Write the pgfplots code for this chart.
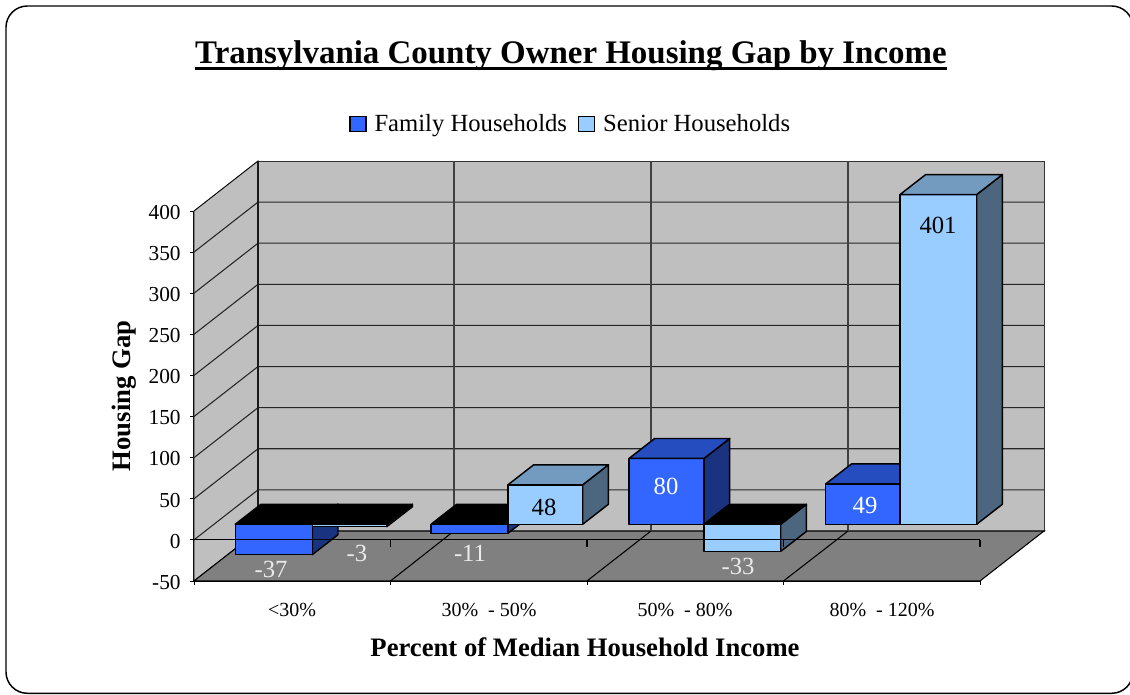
\documentclass[border=0pt]{standalone}
\usepackage{fontspec}
\setmainfont{Liberation Serif}
\usepackage{pgfplots}
\pgfplotsset{compat=1.18}
\definecolor{famF}{HTML}{3366FF}
\definecolor{famT}{HTML}{264DBF}
\definecolor{famS}{HTML}{1A3380}
\definecolor{senF}{HTML}{99CCFF}
\definecolor{senT}{HTML}{739ABF}
\definecolor{senS}{HTML}{4D6680}
\newcommand\ulbar[1]{\setbox0=\hbox{#1}\rlap{\rule[-4.8pt]{\wd0}{2.2pt}}\box0}
% x0, x1 in picture units, v = value, colours front/top/side
\newcommand\threebar[6]{%
  \pgfmathsetmacro\ya{19}%
  \pgfmathsetmacro\yv{#3+19}%
  \pgfmathsetmacro\yt{max(#3,0)+19}%
  \pgfmathsetmacro\xb{#2+25.7}%
  \pgfmathsetmacro\xc{#1+25.7}%
  \pgfmathsetmacro\ytb{\yt+24.3}%
  \pgfmathsetmacro\yab{\ya+24.3}%
  \pgfmathsetmacro\yvb{\yv+24.3}%
  \addplot[forget plot,fill=#6,draw=black,line width=1.1pt,line join=round] coordinates {(#2,\ya) (#2,\yv) (\xb,\yvb) (\xb,\yab)} -- cycle;
  \addplot[forget plot,fill=#4,draw=black,line width=1.1pt,line join=round] coordinates {(#1,\ya) (#2,\ya) (#2,\yv) (#1,\yv)} -- cycle;
  \addplot[forget plot,fill=#5,draw=black,line width=1.1pt,line join=round] coordinates {(#1,\yt) (#2,\yt) (\xb,\ytb) (\xc,\ytb)} -- cycle;
}
\begin{document}
\begin{tikzpicture}
\begin{axis}[
  scale only axis,
  width=589.5pt, height=277.5pt,
  xmin=194, xmax=980, ymin=-50, ymax=400,
  clip=false,
  axis x line=bottom, axis y line=left,
  axis line style={-, line width=0.8pt},
  ytick={-50,0,50,100,150,200,250,300,350,400},
  xtick={292,489,685,882},
  xticklabels={{<30\%},{30\%\ \ - 50\%},{50\%\ \ - 80\%},{80\%\ \ - 120\%}},
  xtick style={draw=none},
  extra x ticks={194,390.5,587,783.5,980},
  extra x tick labels={},
  extra x tick style={xtick style={draw=black,line width=0.7pt}, major tick length=5.5pt},
  ytick style={draw=black,line width=0.7pt},
  major tick length=6pt,
  /pgf/number format/assume math mode=true,
  y tick label style={font=\fontsize{16}{18}\selectfont, xshift=-3.5pt, yshift=-1pt},
  x tick label style={font=\fontsize{15}{18}\selectfont, yshift=-10.5pt},
  title={\ulbar{Transylvania County Owner Housing Gap by Income}},
  title style={font=\fontsize{24.7}{28}\bfseries\selectfont, at={(rel axis cs:0.4796,1.397)}, anchor=center},
  xlabel={Percent of Median Household Income},
  xlabel style={font=\fontsize{20}{22}\bfseries\selectfont, at={(rel axis cs:0.4975,-0.18)}, anchor=center},
  ylabel={Housing Gap},
  ylabel style={font=\fontsize{20}{22}\bfseries\selectfont, at={(rel axis cs:-0.0885,0.5)}, anchor=center, rotate=0},
  legend style={draw=none, fill=none, at={(rel axis cs:0.4796,1.235)}, anchor=center,
    font=\fontsize{18.5}{22}\selectfont, legend columns=2,
    /tikz/every even column/.append style={column sep=6pt}},
]
\addlegendimage{legend image code/.code={\draw[fill=famF,draw=black,line width=1.1pt] (0cm,-5.5pt) rectangle (12pt,5.5pt); \path[draw=none,fill=none] (0,0) -- (16.5pt,0);}}
\addlegendentry{Family Households}
\addlegendimage{legend image code/.code={\draw[fill=senF,draw=black,line width=1.1pt] (0cm,-5.5pt) rectangle (12pt,5.5pt); \path[draw=none,fill=none] (0,0) -- (16.5pt,0);}}
\addlegendentry{Senior Households}
% page frame
\path (axis cs:0,-188.5) rectangle (axis cs:1130,656.6);
\draw[overlay,line width=1.1pt,rounded corners=16pt] (axis cs:6,-186.6) rectangle (axis cs:1133,649.3);
% walls and floor
\addplot[forget plot,fill=black!25,draw=black!80,line width=0.7pt] coordinates {(258,10.8) (1044,10.8) (1044,460.8) (258,460.8)} -- cycle;
\addplot[forget plot,fill=black!25,draw=black,line width=0.7pt] coordinates {(194,-50) (258,10.8) (258,460.8) (194,400)} -- cycle;
\addplot[forget plot,fill=black!50,draw=black,line width=0.8pt] coordinates {(194,-50) (258,10.8) (1044,10.8) (980,-50)} -- cycle;
% gridlines
\pgfplotsinvokeforeach{0,50,100,150,200,250,300,350}{
  \pgfmathsetmacro\yb{#1+60.8}
  \addplot[forget plot,black!85,line width=0.8pt] coordinates {(194,#1) (258,\yb) (1044,\yb)};
}
\addplot[forget plot,black!75,line width=0.8pt] coordinates {(454,10.8) (454,460.8)};
\addplot[forget plot,black!75,line width=0.8pt] coordinates {(651,10.8) (651,460.8)};
\addplot[forget plot,black!75,line width=0.8pt] coordinates {(848,10.8) (848,460.8)};
\addplot[forget plot,black!90,line width=1.1pt] coordinates {(258,10.8) (258,460.8)};
\addplot[forget plot,black,line width=0.8pt] coordinates {(390.5,-50) (454,10.8)};
\addplot[forget plot,black,line width=0.8pt] coordinates {(587,-50) (651,10.8)};
\addplot[forget plot,black,line width=0.8pt] coordinates {(783.5,-50) (848,10.8)};
% bars
\threebar{235.3}{312.3}{-37}{famF}{black}{famS}
\threebar{312.3}{386.7}{-3}{senF}{black}{senS}
\threebar{431}{508}{-11}{famF}{black}{famS}
\threebar{508}{582.7}{48}{senF}{senT}{senS}
\threebar{629}{704}{80}{famF}{famT}{famS}
\threebar{704}{780.7}{-33}{senF}{black}{senS}
\threebar{825.7}{900}{49}{famF}{famT}{famS}
\threebar{900}{976.7}{401}{senF}{senT}{senS}
% zero axis line
\addplot[forget plot,black,line width=0.8pt] coordinates {(194,0) (980,0)};
\addplot[forget plot,black,line width=0.8pt] coordinates {(390.5,0) (390.5,-9)};
\addplot[forget plot,black,line width=0.8pt] coordinates {(587,0) (587,-9)};
\addplot[forget plot,black,line width=0.8pt] coordinates {(783.5,0) (783.5,-9)};
\addplot[forget plot,black,line width=0.8pt] coordinates {(980,0) (980,-9)};
% value labels
\begin{scope}[every node/.style={font=\fontsize{18.5}{22}\selectfont}]
\node[white!92!black] at (axis cs:271,-35.5) {-37};
\node[white!92!black] at (axis cs:357,-17) {-3};
\node[white!92!black] at (axis cs:470,-17) {-11};
\node[black] at (axis cs:544,40) {48};
\node[white] at (axis cs:666,65.6) {80};
\node[white!92!black] at (axis cs:738,-32) {-33};
\node[white] at (axis cs:865,42.4) {49};
\node[black] at (axis cs:938,383) {401};
\end{scope}
\end{axis}
\end{tikzpicture}
\end{document}
